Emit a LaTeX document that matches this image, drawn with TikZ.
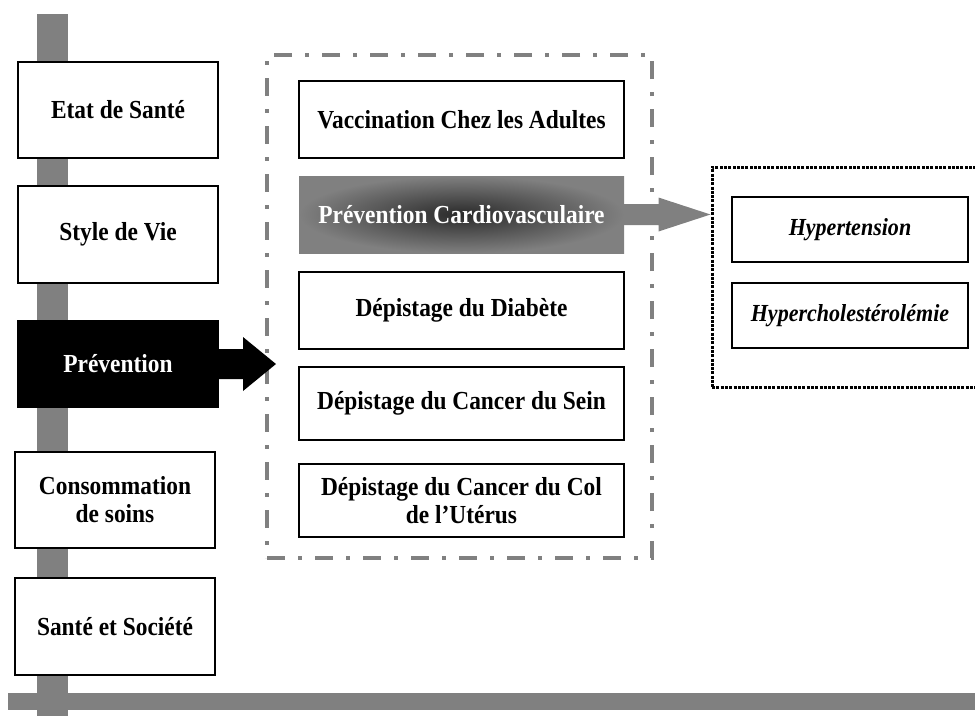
\documentclass[tikz,border=0pt]{standalone}
\usepackage{fontspec}
\setmainfont{Liberation Serif}[FakeStretch=0.9]
\usetikzlibrary{calc}
\definecolor{bargray}{HTML}{808080}
\definecolor{darkc}{HTML}{2A2A2A}
\begin{document}
\begin{tikzpicture}[x=1pt,y=-1pt,
  lbl/.style={font=\bfseries\fontsize{26}{28}\selectfont, align=center, inner sep=0pt},
  box/.style={lbl, draw=black, line width=1.8pt, fill=white},
  leftbox/.style={box, minimum width=200pt, minimum height=96pt},
  midbox/.style={box, minimum width=325pt, minimum height=77pt},
  subbox/.style={box, font=\bfseries\itshape\fontsize{24.5}{26}\selectfont, minimum width=236pt, minimum height=65pt},
  grpbox/.style={draw=bargray, line width=4pt, dash pattern=on 18pt off 13pt on 4pt off 13pt, minimum width=385pt, minimum height=503pt, inner sep=0pt},
  dotbox/.style={draw=black, line width=3pt, dash pattern=on 3pt off 1.3pt, minimum width=278pt, minimum height=220pt, inner sep=0pt},
  bar/.style={fill=bargray}
  ]
\useasboundingbox (0,0) rectangle (975,716);
\clip (0,0) rectangle (975,716);

% gray bars
\fill[bar] (37,14) rectangle (68,716);
\fill[bar] (8,693) rectangle (975,710);

% left column
\node[leftbox] (etat) at (118,110) {Etat de Santé};
\node[leftbox, minimum height=97pt] (style) at (118,234.5) {Style de Vie};
\node[leftbox, minimum height=86pt, fill=black, text=white] (prev) at (118,364) {Prévention};
\node[leftbox] (conso) at (115,500) {Consommation\\de soins};
\node[leftbox, minimum height=97pt] (sante) at (115,626.5) {Santé et Société};

% group container
\node[grpbox] (grp) at (459.5,306.5) {};

% middle column
\node[midbox] (vacc) at (461.5,119.5) {Vaccination Chez les Adultes};
\node[lbl, minimum width=325pt, minimum height=77pt, shading=radial, inner color=darkc, outer color=bargray, text=white] (cardio) at (461.5,214.5) {Prévention Cardiovasculaire};
\node[midbox] (diab) at (461.5,310.5) {Dépistage du Diabète};
\node[midbox, minimum height=73pt] (sein) at (461.5,403.5) {Dépistage du Cancer du Sein};
\node[midbox, minimum height=73pt] (col) at (461.5,500.5) {Dépistage du Cancer du Col\\de l'Utérus};

% sub container
\node[dotbox] (sub) at (851,277) {};
\node[subbox] (hyper) at (850,229.5) {Hypertension};
\node[subbox] (chol) at (850,315.5) {Hypercholestérolémie};

% black arrow from Prévention
\coordinate (ptip) at ($(grp.west |- prev.east)+(11,0)$);
\fill[black] ($(prev.east)+(-1,-15)$) -- ($(ptip)+(-33,-15)$) -- ($(ptip)+(-33,-27)$) -- (ptip)
  -- ($(ptip)+(-33,27)$) -- ($(ptip)+(-33,15)$) -- ($(prev.east)+(-1,15)$) -- cycle;

% gray arrow from Cardio
\coordinate (ctip) at (sub.west |- cardio.east);
\fill[bargray] ($(cardio.east)+(0,-10.5)$) -- ($(ctip)+(-52,-10.5)$) -- ($(ctip)+(-52,-17)$) -- (ctip)
  -- ($(ctip)+(-52,17)$) -- ($(ctip)+(-52,10.5)$) -- ($(cardio.east)+(0,10.5)$) -- cycle;
\end{tikzpicture}
\end{document}
